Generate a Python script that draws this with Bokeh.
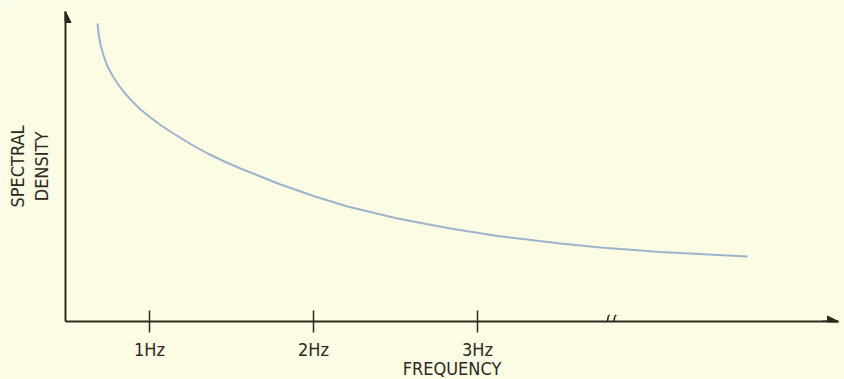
from bokeh.plotting import figure
from bokeh.models import (FixedTicker, Range1d, Arrow, NormalHead, Title)
from bokeh.embed import file_html
from bokeh.resources import INLINE

# ---- data ----
freq_hz = [0.683, 0.689, 0.701, 0.720, 0.744, 0.774, 0.805, 0.841, 0.884,
           0.945, 1.006, 1.067, 1.146, 1.250, 1.354, 1.463, 1.555, 1.677,
           1.799, 2.000, 2.207, 2.512, 2.817, 3.122, 3.506, 3.750, 4.116, 4.646]
spectral_density = [29.8, 28.8, 27.7, 26.6, 25.5, 24.6, 23.8, 23.0, 22.2,
                    21.2, 20.4, 19.65, 18.8, 17.75, 16.8, 15.95, 15.3, 14.5,
                    13.7, 12.55, 11.5, 10.3, 9.35, 8.55, 7.8, 7.4, 6.95, 6.5]
tick_values = [1, 2, 3]
tick_labels = ["1Hz", "2Hz", "3Hz"]
axis_break = 3.81
x_label = "FREQUENCY"
y_label = "SPECTRAL\nDENSITY"

# ---- styles ----
BG = "#fcfce4"
INK = "#2e2820"
CURVE = "#9db3cc"
FONT = "'DejaVu Sans Condensed', 'Liberation Sans', sans-serif"

x_min, x_max = 0.4878, 5.201
y_min, y_max = 0.0, 31.0
PX_X = 1 / 164.0   # data units per pixel, x
PX_Y = 0.1         # data units per pixel, y

p = figure(width=844, height=379, output_backend="svg", toolbar_location=None,
           x_range=Range1d(x_min, x_max), y_range=Range1d(y_min, y_max),
           min_border_left=65, min_border_right=6, min_border_top=11,
           min_border_bottom=58)
p.background_fill_color = BG
p.border_fill_color = BG
p.outline_line_color = None
p.xgrid.visible = False
p.ygrid.visible = False

# x axis
xa = p.xaxis[0]
xa.ticker = FixedTicker(ticks=tick_values)
xa.major_label_overrides = {v: t for v, t in zip(tick_values, tick_labels)}
xa.major_tick_in = 11
xa.major_tick_out = 11
xa.minor_tick_out = 0
xa.minor_tick_in = 0
xa.axis_line_color = INK
xa.axis_line_width = 2
xa.major_tick_line_color = INK
xa.major_tick_line_width = 1.5
xa.major_label_text_font = FONT
xa.major_label_text_font_size = "18px"
xa.major_label_text_color = INK
xa.major_label_standoff = 6

# x axis title, below the tick labels
p.add_layout(Title(text=x_label, align="center", offset=-56, standoff=-13,
                   text_font=FONT, text_font_size="18px",
                   text_font_style="normal", text_color=INK), "below")

# y axis
ya = p.yaxis[0]
ya.ticker = FixedTicker(ticks=[])
ya.major_tick_out = 0
ya.major_tick_in = 0
ya.minor_tick_out = 0
ya.minor_tick_in = 0
ya.axis_line_color = INK
ya.axis_line_width = 2
ya.axis_label = y_label
ya.axis_label_text_font = FONT
ya.axis_label_text_font_size = "18px"
ya.axis_label_text_font_style = "normal"
ya.axis_label_text_color = INK
ya.axis_label_text_line_height = 1.1
ya.axis_label_standoff = 14

# curve
p.line(freq_hz, spectral_density, line_width=2, line_color=CURVE)

# arrow heads on the axes
p.add_layout(Arrow(end=NormalHead(size=11, fill_color=INK, line_color=INK),
                   x_start=x_max - 0.1, y_start=y_min, x_end=x_max, y_end=y_min,
                   line_color=INK, line_width=2))
p.add_layout(Arrow(end=NormalHead(size=11, fill_color=INK, line_color=INK),
                   x_start=x_min, y_start=y_max - 1, x_end=x_min, y_end=y_max,
                   line_color=INK, line_width=2))

# axis break mark: two small "ʃ" strokes
s_shape = [(2.5, 6.5), (1.0, 5.5), (0.0, 0.0), (-1.0, -5.5), (-2.5, -6.5)]
for centre in (axis_break - 3 * PX_X, axis_break + 3.5 * PX_X):
    for (ax, ay), (bx, by) in zip(s_shape[:-1], s_shape[1:]):
        p.add_layout(Arrow(start=None, end=None,
                           x_start=centre + ax * PX_X, y_start=y_min + ay * PX_Y,
                           x_end=centre + bx * PX_X, y_end=y_min + by * PX_Y,
                           line_color=INK, line_width=1.5))

open("out.html", "w").write(file_html(p, INLINE))
